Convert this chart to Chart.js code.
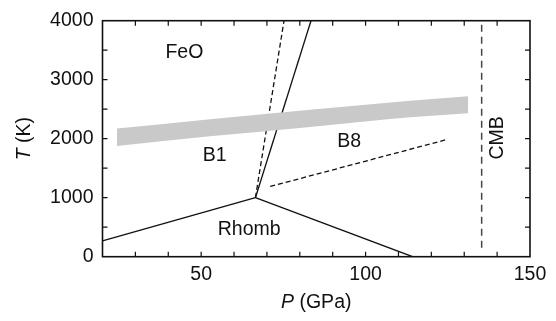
<!DOCTYPE html>
<html>
<head>
<meta charset="utf-8">
<script src="https://cdn.jsdelivr.net/npm/chart.js@4/dist/chart.umd.min.js"></script>
<style>
  html, body { margin: 0; padding: 0; background: #fff; }
  #wrap { width: 556px; height: 321px; }
</style>
</head>
<body>
<div id="wrap"><canvas id="c" width="556" height="321"></canvas></div>
<script>
// ---- Data ----
const xTickLabels = [50, 100, 150];
const yTickLabels = [0, 1000, 2000, 3000, 4000];

// Phase boundaries (P in GPa, T in K)
const b1RhombP = [20, 66.5];
const b1RhombT = [270, 1000];
const rhombB8P = [66.5, 114.3];
const rhombB8T = [1000, 0];
const b1B8P = [66.5, 83.4];
const b1B8T = [1000, 4000];
const b1B8AltP = [66.5, 75.2];
const b1B8AltT = [1000, 4000];
const b8DashP = [71, 125];
const b8DashT = [1190, 1990];
const cmbP = [135.3, 135.3];
const cmbT = [150, 3960];

// Grey band (geotherm range)
const bandP = [24.4, 52.7, 83.1, 113.5, 131.2];
const bandTop = [2171, 2330, 2490, 2645, 2721];
const bandBottom = [1878, 2040, 2198, 2362, 2431];

// Region labels
const regionLabels = ['FeO', 'B1', 'B8', 'Rhomb', 'CMB'];
const regionLabelP = [44.9, 54.1, 95.0, 64.6, 140.3];
const regionLabelT = [3462, 1717, 1943, 463, 2013];
const regionLabelRotated = [false, false, false, false, true];

// ---- Helpers ----
const pts = (xs, ys) => xs.map((v, i) => ({ x: v, y: ys[i] }));
const FONT = '"Liberation Sans", Arial, Helvetica, sans-serif';
const FS = 19.5;

function lineDs(xs, ys, opts) {
  return Object.assign({
    type: 'line',
    data: pts(xs, ys),
    borderColor: '#111',
    borderWidth: 1.3,
    pointRadius: 0,
    showLine: true,
    fill: false,
    tension: 0
  }, opts || {});
}

const framePlugin = {
  id: 'framePlugin',
  afterDatasetsDraw(chart) {
    const { ctx, chartArea: a, scales: { x, y } } = chart;
    ctx.save();
    ctx.strokeStyle = '#111';
    ctx.lineWidth = 1.6;
    ctx.strokeRect(a.left, a.top, a.right - a.left, a.bottom - a.top);
    ctx.lineWidth = 1.2;
    ctx.beginPath();
    const tl = 5;
    x.ticks.forEach(t => {
      const px = x.getPixelForValue(t.value);
      if (px <= a.left + 1 || px >= a.right - 1) return;
      ctx.moveTo(px, a.bottom); ctx.lineTo(px, a.bottom - tl);
      ctx.moveTo(px, a.top); ctx.lineTo(px, a.top + tl);
    });
    y.ticks.forEach(t => {
      const py = y.getPixelForValue(t.value);
      if (py <= a.top + 1 || py >= a.bottom - 1) return;
      ctx.moveTo(a.left, py); ctx.lineTo(a.left + tl, py);
      ctx.moveTo(a.right, py); ctx.lineTo(a.right - tl, py);
    });
    ctx.stroke();

    // region labels
    ctx.fillStyle = '#111';
    ctx.font = FS + 'px ' + FONT;
    ctx.textAlign = 'center';
    ctx.textBaseline = 'middle';
    regionLabels.forEach((lbl, i) => {
      const px = x.getPixelForValue(regionLabelP[i]);
      const py = y.getPixelForValue(regionLabelT[i]);
      if (regionLabelRotated[i]) {
        ctx.save();
        ctx.translate(px, py);
        ctx.rotate(-Math.PI / 2);
        ctx.fillText(lbl, 0, 0);
        ctx.restore();
      } else {
        ctx.fillText(lbl, px, py);
      }
    });

    // axis titles with italic symbols
    function mixedText(cx, cy, parts) {
      let total = 0;
      parts.forEach(p => { ctx.font = p.f; p.w = ctx.measureText(p.t).width; total += p.w; });
      let xx = cx - total / 2;
      ctx.textAlign = 'left';
      ctx.textBaseline = 'alphabetic';
      parts.forEach(p => { ctx.font = p.f; ctx.fillText(p.t, xx, cy); xx += p.w; });
    }
    const italic = 'italic ' + FS + 'px ' + FONT;
    const normal = FS + 'px ' + FONT;
    mixedText((a.left + a.right) / 2, 308, [{ t: 'P', f: italic }, { t: ' (GPa)', f: normal }]);
    ctx.save();
    ctx.translate(30, (a.top + a.bottom) / 2);
    ctx.rotate(-Math.PI / 2);
    mixedText(0, 0, [{ t: 'T', f: italic }, { t: ' (K)', f: normal }]);
    ctx.restore();
    ctx.restore();
  }
};

new Chart(document.getElementById('c'), {
  type: 'scatter',
  data: {
    datasets: [
      lineDs(bandP, bandTop, { borderWidth: 0, borderColor: 'rgba(0,0,0,0)', backgroundColor: '#c9c9c9', fill: '+1', cubicInterpolationMode: 'monotone' }),
      lineDs(bandP, bandBottom, { borderWidth: 0, borderColor: 'rgba(0,0,0,0)', cubicInterpolationMode: 'monotone' }),
      lineDs(b1RhombP, b1RhombT),
      lineDs(rhombB8P, rhombB8T),
      lineDs(b1B8P, b1B8T),
      lineDs(b1B8AltP, b1B8AltT, { borderDash: [5, 3] }),
      lineDs(b8DashP, b8DashT, { borderDash: [5, 3] }),
      lineDs(cmbP, cmbT, { borderDash: [7, 5], borderColor: '#444', borderWidth: 1.5 })
    ]
  },
  options: {
    responsive: false,
    animation: false,
    devicePixelRatio: 1,
    layout: { padding: { top: 16.5, right: 26, left: 0, bottom: 0 } },
    plugins: { legend: { display: false }, tooltip: { enabled: false } },
    scales: {
      x: {
        type: 'linear', min: 20, max: 150,
        afterFit: s => { s.height = 64.3; },
        ticks: {
          stepSize: 10, color: '#111', padding: 6,
          font: { family: FONT, size: FS },
          maxRotation: 0, autoSkip: false,
          callback: v => xTickLabels.includes(v) ? String(v) : ''
        },
        grid: { display: true, drawOnChartArea: false, drawTicks: false, tickLength: 0, color: 'rgba(0,0,0,0)' },
        border: { display: false }
      },
      y: {
        type: 'linear', min: 0, max: 4000,
        afterFit: s => { s.width = 102.5; },
        ticks: {
          stepSize: 500, color: '#111', padding: 9,
          font: { family: FONT, size: FS },
          autoSkip: false,
          callback: v => yTickLabels.includes(v) ? String(v) : ''
        },
        grid: { display: true, drawOnChartArea: false, drawTicks: false, tickLength: 0, color: 'rgba(0,0,0,0)' },
        border: { display: false }
      }
    }
  },
  plugins: [framePlugin]
});
</script>
</body>
</html>
